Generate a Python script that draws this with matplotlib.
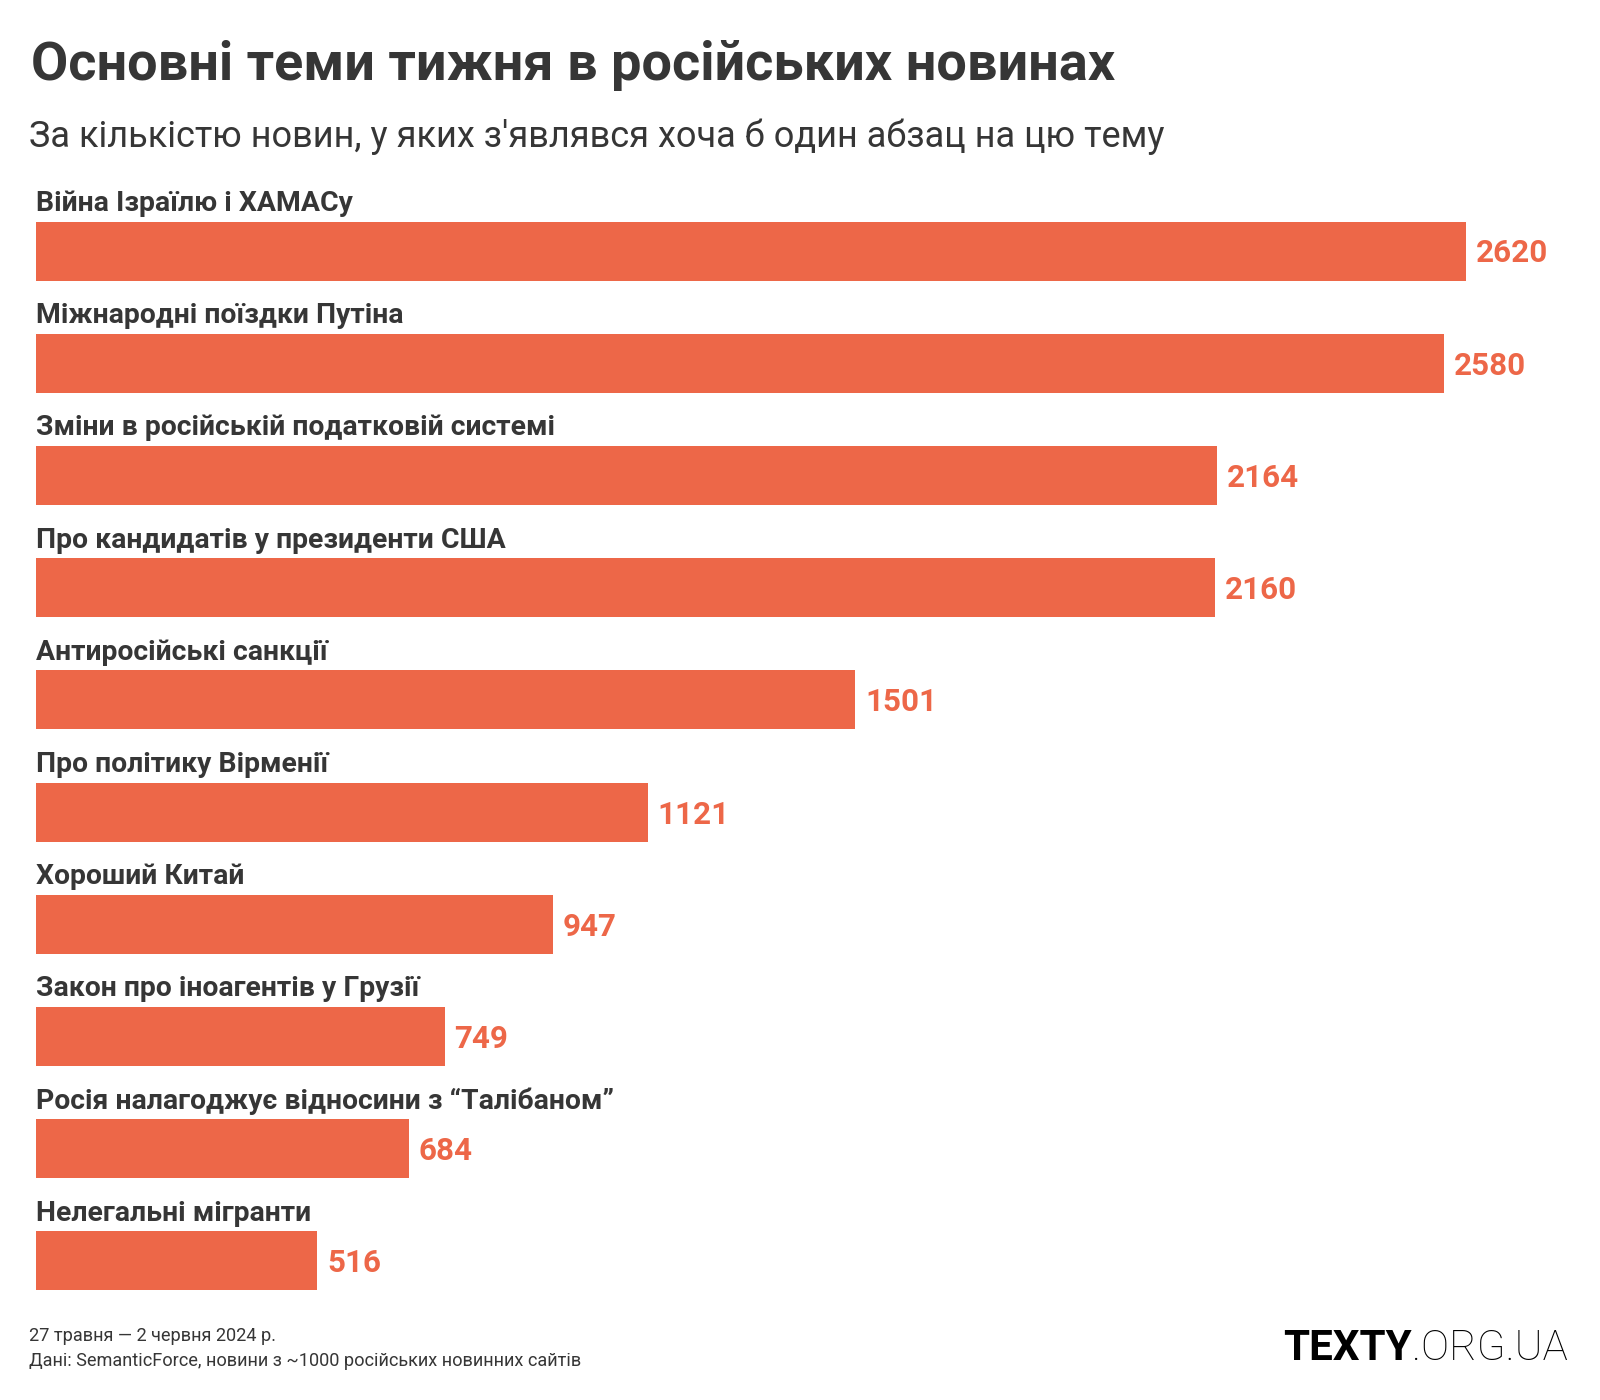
import matplotlib
matplotlib.use("Agg")
import matplotlib.pyplot as plt

# --- data -------------------------------------------------------------
topics = [
    "Війна Ізраїлю і ХАМАСу",
    "Міжнародні поїздки Путіна",
    "Зміни в російській податковій системі",
    "Про кандидатів у президенти США",
    "Антиросійські санкції",
    "Про політику Вірменії",
    "Хороший Китай",
    "Закон про іноагентів у Грузії",
    "Росія налагоджує відносини з “Талібаном”",
    "Нелегальні мігранти",
]
counts = [2620, 2580, 2164, 2160, 1501, 1121, 947, 749, 684, 516]

title = "Основні теми тижня в російських новинах"
subtitle = "За кількістю новин, у яких з'являвся хоча б один абзац на цю тему"
footer = ["27 травня — 2 червня 2024 р.",
          "Дані: SemanticForce, новини з ~1000 російських новинних сайтів"]

TEXT_COL = "#363636"
BAR_COL = "#ED6748"
W, H = 1600, 1400

plt.rcParams['font.family'] = ['Roboto', 'DejaVu Sans']

fig = plt.figure(figsize=(16, 14), dpi=100)
fig.patch.set_facecolor("white")
renderer = fig.canvas.get_renderer()


def fxy(x, y):
    # pixel position from top-left -> figure fraction
    return x / W, 1 - y / H


def fit_size(s, width, **kw):
    # font size at which text s is `width` pixels wide
    t = fig.text(0, 0, s, fontsize=20, **kw)
    w = t.get_window_extent(renderer).width
    t.remove()
    return 20 * width / w


# title / subtitle
fig.text(*fxy(30.6, 80), title, fontsize=fit_size(title, 1080, fontweight="bold"),
         fontweight="bold", color=TEXT_COL, va="baseline")
fig.text(*fxy(29, 147), subtitle, fontsize=fit_size(subtitle, 1134),
         color=TEXT_COL, va="baseline")

# bars
x0, x_end = 35.7, 1466.3
px_per_unit = (x_end - x0) / counts[0]
top_px, bot_px = 150, 1300
c0, pitch = 251, 112.2
ax = fig.add_axes([x0 / W, 1 - bot_px / H, (W - x0) / W, (bot_px - top_px) / H])
ax.set_xlim(0, (W - x0) / px_per_unit)
ax.set_ylim((bot_px - c0) / pitch, (top_px - c0) / pitch)
ax.axis("off")

ypos = list(range(len(topics)))
ax.barh(ypos, counts, height=59 / pitch, color=BAR_COL)

lab_fs = fit_size(topics[0], 316, fontweight="bold")
val_fs = fit_size("2620", 72, fontweight="bold")
for i, (t, v) in enumerate(zip(topics, counts)):
    ax.text(0, i - 40 / pitch, t, fontsize=lab_fs, fontweight="bold",
            color=TEXT_COL, va="baseline", ha="left")
    ax.annotate(str(v), (v, i + 11.5 / pitch), xytext=(7, 0),
                textcoords="offset points", fontsize=val_fs,
                fontweight="bold", color=BAR_COL, va="baseline", ha="left")

# footer
foot_fs = fit_size(footer[1], 551)
fig.text(*fxy(28.6, 1341), footer[0], fontsize=foot_fs, color=TEXT_COL, va="baseline")
fig.text(*fxy(28.6, 1366), footer[1], fontsize=foot_fs, color=TEXT_COL, va="baseline")

# logo
logo_fs = fit_size("TEXTY", 128, fontweight="bold")
t1 = fig.text(*fxy(1283, 1360), "TEXTY", fontsize=logo_fs, fontweight="bold",
              color="black", va="baseline")
x1 = t1.get_window_extent(renderer).x1
fig.text(x1 / W, 1 - 1360 / H, ".ORG.UA", fontsize=logo_fs, fontweight="light",
         color="black", va="baseline")

fig.savefig("out.png", dpi=100, facecolor="white")
